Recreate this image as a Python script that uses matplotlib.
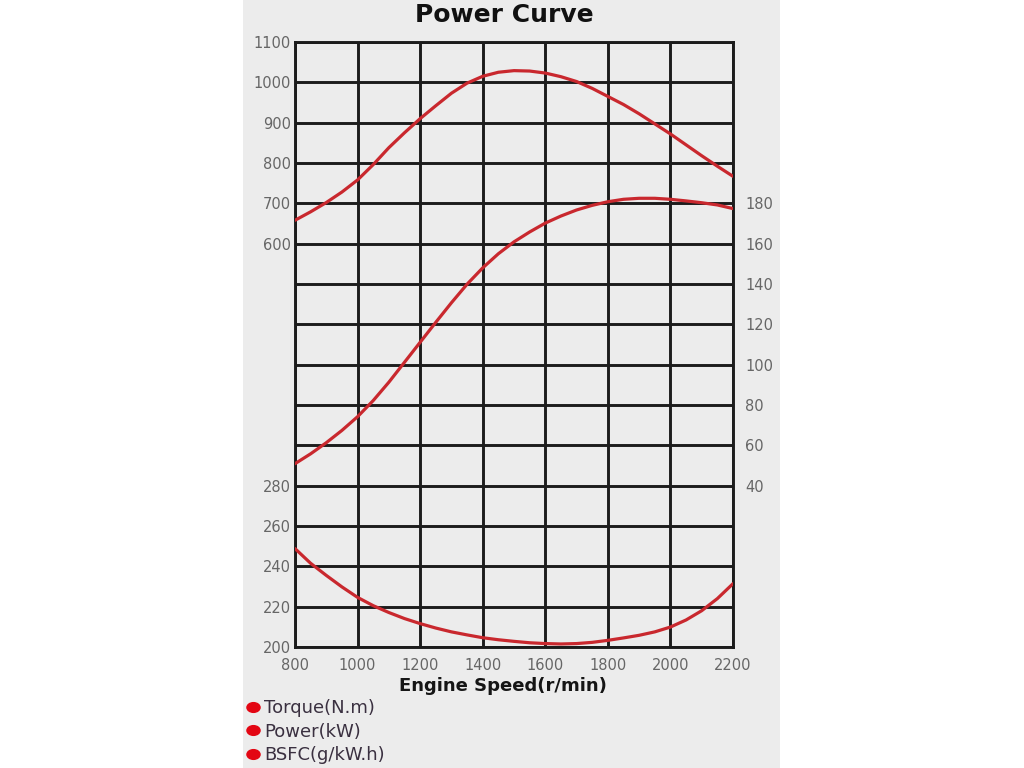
"""Engine power curve: torque, power and BSFC against engine speed."""

import matplotlib

matplotlib.use("Agg")

import matplotlib.pyplot as plt
import numpy as np
from matplotlib.lines import Line2D
from matplotlib.markers import MarkerStyle
from matplotlib.patches import Rectangle
from matplotlib.ticker import FuncFormatter
from matplotlib.transforms import Affine2D

# engine speed (r/min), read every 50 r/min
speed = [800, 850, 900, 950, 1000, 1050, 1100, 1150, 1200, 1250,
         1300, 1350, 1400, 1450, 1500, 1550, 1600, 1650, 1700, 1750,
         1800, 1850, 1900, 1950, 2000, 2050, 2100, 2150, 2200]
# torque (N.m), upper curve on the left scale
torque = [658, 679, 702, 728, 758, 796, 838, 875, 910, 942,
          973, 998, 1015, 1025, 1029, 1028, 1023, 1014, 1002, 985,
          965, 945, 922, 897, 872, 845, 818, 792, 767]
# power (kW), right-hand scale
power = [50.9, 55.8, 61.3, 67.4, 74.2, 82.2, 91.3, 101.2, 111.1, 121.0,
         130.7, 139.9, 148.0, 155.0, 160.9, 165.8, 170.2, 173.7, 176.7, 179.0,
         180.8, 182.0, 182.5, 182.5, 182.0, 181.2, 180.3, 179.2, 177.4]
# specific fuel consumption (g/kW.h), lower curve on the left scale
bsfc = [248.8, 241.5, 235.5, 229.8, 224.6, 220.5, 217.1, 214.1, 211.6, 209.4,
        207.5, 206.0, 204.6, 203.6, 202.8, 202.1, 201.7, 201.5, 201.7, 202.3,
        203.3, 204.5, 205.8, 207.5, 209.9, 213.4, 218.0, 224.0, 231.4]

speed_ticks = [800, 1000, 1200, 1400, 1600, 1800, 2000, 2200]
torque_ticks = [600, 700, 800, 900, 1000, 1100]
power_ticks = [40, 60, 80, 100, 120, 140, 160, 180]
bsfc_ticks = [200, 220, 240, 260, 280]
legend_labels = ["Torque(N.m)", "Power(kW)", "BSFC(g/kW.h)"]

CURVE = "#c9282e"
GRID = "#1c1c1c"
PANEL = "#ececec"
TICK_TEXT = "#666666"
TICK_SIZE = 10.5

fig = plt.figure(figsize=(10.24, 7.68), dpi=100)
fig.patch.set_facecolor("white")
fig.add_artist(Rectangle((243 / 1024, 0), (780 - 243) / 1024, 1,
                         transform=fig.transFigure, facecolor=PANEL,
                         edgecolor="none", zorder=-10))

ax = fig.add_axes([295 / 1024, 1 - 647 / 768, 438 / 1024, 605 / 768])
ax.set_facecolor(PANEL)

curve_style = dict(color=CURVE, lw=2.3, solid_joinstyle="round",
                   solid_capstyle="round", zorder=3)

# torque on the main axes; the full grid hangs off its ticks
ax.plot(speed, torque, **curve_style)
ax.set_xlim(800, 2200)
ax.set_ylim(-400, 1100)
ax.set_xticks(speed_ticks)
ax.set_yticks(np.arange(-400, 1101, 100))
ax.yaxis.set_major_formatter(
    FuncFormatter(lambda v, _: f"{v:.0f}" if v >= min(torque_ticks) else ""))
ax.grid(True, color=GRID, lw=2.1)
ax.set_axisbelow(True)
for spine in ax.spines.values():
    spine.set_color(GRID)
    spine.set_linewidth(2.1)
ax.tick_params(axis="both", length=0, labelsize=TICK_SIZE,
               labelcolor=TICK_TEXT, labelfontfamily="DejaVu Sans")
ax.tick_params(axis="x", pad=8)
ax.tick_params(axis="y", pad=3)

# power on the right
ax_pow = ax.twinx()
ax_pow.plot(speed, power, **curve_style)
ax_pow.set_ylim(-40, 260)
ax_pow.set_yticks(power_ticks)
ax_pow.tick_params(axis="y", length=0, pad=9, labelsize=TICK_SIZE,
                   labelcolor=TICK_TEXT, labelfontfamily="DejaVu Sans")

# fuel consumption labelled on the left, under the torque scale
ax_bsfc = ax.twinx()
ax_bsfc.plot(speed, bsfc, **curve_style)
ax_bsfc.set_ylim(200, 500)
ax_bsfc.set_yticks(bsfc_ticks)
ax_bsfc.yaxis.tick_left()
ax_bsfc.tick_params(axis="y", length=0, pad=3, labelsize=TICK_SIZE,
                    labelcolor=TICK_TEXT, labelfontfamily="DejaVu Sans")

for twin in (ax_pow, ax_bsfc):
    for spine in twin.spines.values():
        spine.set_visible(False)

fig.text(504 / 1024, 1 - 15 / 768, "Power Curve", ha="center", va="center",
         fontsize=18, fontweight="bold", family="DejaVu Sans", color="#111111")
fig.text(503 / 1024, 1 - 686 / 768, "Engine Speed(r/min)", ha="center",
         va="center", fontsize=13, fontweight="bold", family="DejaVu Sans",
         color="#151515")

dot = MarkerStyle("o", transform=Affine2D().scale(1.35, 1.0))
handles = [Line2D([], [], ls="none", marker=dot, ms=7, color="#e30613")
           for _ in legend_labels]
fig.legend(handles, legend_labels, loc="upper left",
           bbox_to_anchor=(238 / 1024, 1 - 690 / 768), frameon=False,
           handlelength=0.7, handletextpad=0.25, labelspacing=0.31,
           borderpad=0, prop={"family": "DejaVu Sans", "size": 13},
           labelcolor="#3a3040")

fig.savefig("out.png", dpi=100, facecolor=fig.get_facecolor())
